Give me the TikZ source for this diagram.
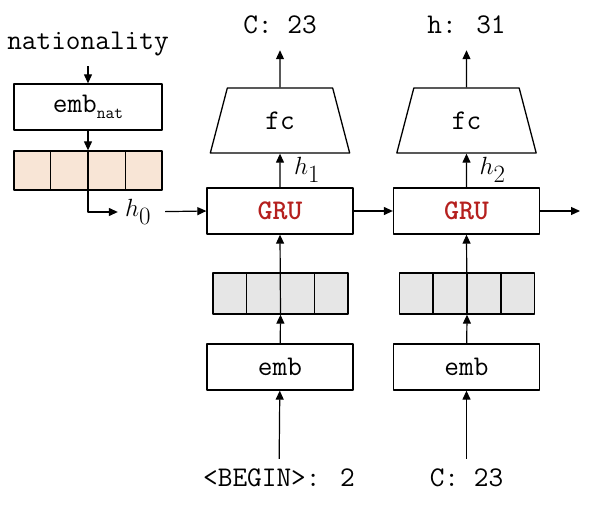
\documentclass[tikz,border=0pt]{standalone}
\usepackage{fontspec}
\usetikzlibrary{arrows.meta,shapes.geometric,calc}
\definecolor{pinkcell}{HTML}{F8E5D6}
\definecolor{graycell}{HTML}{E6E6E6}
\definecolor{grured}{HTML}{B5201E}
\newcommand{\monobig}{\fontsize{28.5}{34}\selectfont\ttfamily}
\newcommand{\mathbig}{\fontsize{33}{38}\selectfont}
\begin{document}
\begin{tikzpicture}[x=1pt,y=-1pt,line join=round,>={Triangle[length=9pt,width=8pt]},
	box/.style={rectangle,draw,line width=1.3pt,minimum width=146pt,minimum height=46pt,font=\monobig},
	cellstrip/.style={rectangle,draw,line width=1.3pt,minimum width=135pt,minimum height=41pt,fill=graycell},
	fcbox/.style={trapezium,draw,line width=1.3pt,trapezium angle=76.6,minimum width=140pt,minimum height=65pt,trapezium stretches=true,font=\monobig},
	lbl/.style={font=\monobig,inner sep=0pt},
	hlbl/.style={font=\mathbig,inner xsep=7pt,inner ysep=1pt},
	arr/.style={->,line width=1.2pt}]
	\useasboundingbox (0,0) rectangle (600,522);
	\path(88,44)node[lbl](nat){nationality}%nhánh quốc tịch
	(88,107)node[box,minimum width=148pt](embnat){emb\raisebox{-6pt}{\fontsize{17}{20}\selectfont nat}}
	(88,170.5)node[cellstrip,fill=pinkcell,minimum width=148pt,minimum height=39pt](natcells){}
	(138,212)node[hlbl](h0){$h_0$}
	;
	\path%cột 1
	(280,211)node[box](gru1){\textcolor{grured}{\bfseries GRU}}
	(gru1)++(0,-90.5)node[fcbox](fc1){fc}
	(gru1)++(0,-186)node[lbl](out1){C: 23}
	(gru1)++(0.5,82.5)node[cellstrip](cells1){}
	(gru1)++(0,156)node[box](emb1){emb}
	(gru1)++(-1,267)node[lbl](in1){<BEGIN>: 2}
	(gru1)++(27,-41)node[hlbl,inner xsep=1pt](h1){$h_1$}
	;
	\path%cột 2
	(gru1)++(186.5,0)node[box](gru2){\textcolor{grured}{\bfseries GRU}}
	(gru2)++(0,-90.5)node[fcbox](fc2){fc}
	(gru2)++(0,-186)node[lbl](out2){h: 31}
	(gru2)++(0.5,82.5)node[cellstrip](cells2){}
	(gru2)++(0,156)node[box](emb2){emb}
	(gru2)++(0,267)node[lbl](in2){C: 23}
	(gru2)++(26,-41)node[hlbl,inner xsep=1pt](h2){$h_2$}
	;
	\coordinate(tail)at(580,211);
	%ô chia
	\foreach \c in {natcells,cells1,cells2}
	\foreach \k in {1,2,3}
	\draw[line width=1.3pt]($(\c.north west)!\k/4!(\c.north east)$)--($(\c.south west)!\k/4!(\c.south east)$);
	%Vẽ
	\draw[arr,shorten <=10pt](nat)--(embnat);
	\draw[arr](embnat)--(natcells.north);
	\draw[line width=1.2pt](natcells.north)--(natcells.south);
	\draw[arr](natcells.south)|-(h0.west);
	\draw[arr,shorten <=7pt](h0)--(gru1.west);
	\draw[arr](gru1)--(gru2);
	\draw[arr](gru2)--(tail);
	\draw[arr](gru1)--(fc1.south);
	\draw[arr](gru2)--(fc2.south);
	\draw[arr,shorten >=16pt](fc1)--(out1);
	\draw[arr,shorten >=16pt](fc2)--(out2);
	\draw[arr](emb1)--(cells1.south);
	\draw[arr](cells1.south)--(gru1.south);
	\draw[arr](emb2)--(cells2.south);
	\draw[arr](cells2.south)--(gru2.south);
	\draw[arr,shorten <=10pt](in1)--(emb1);
	\draw[arr,shorten <=10pt](in2)--(emb2);
\end{tikzpicture}
\end{document}
